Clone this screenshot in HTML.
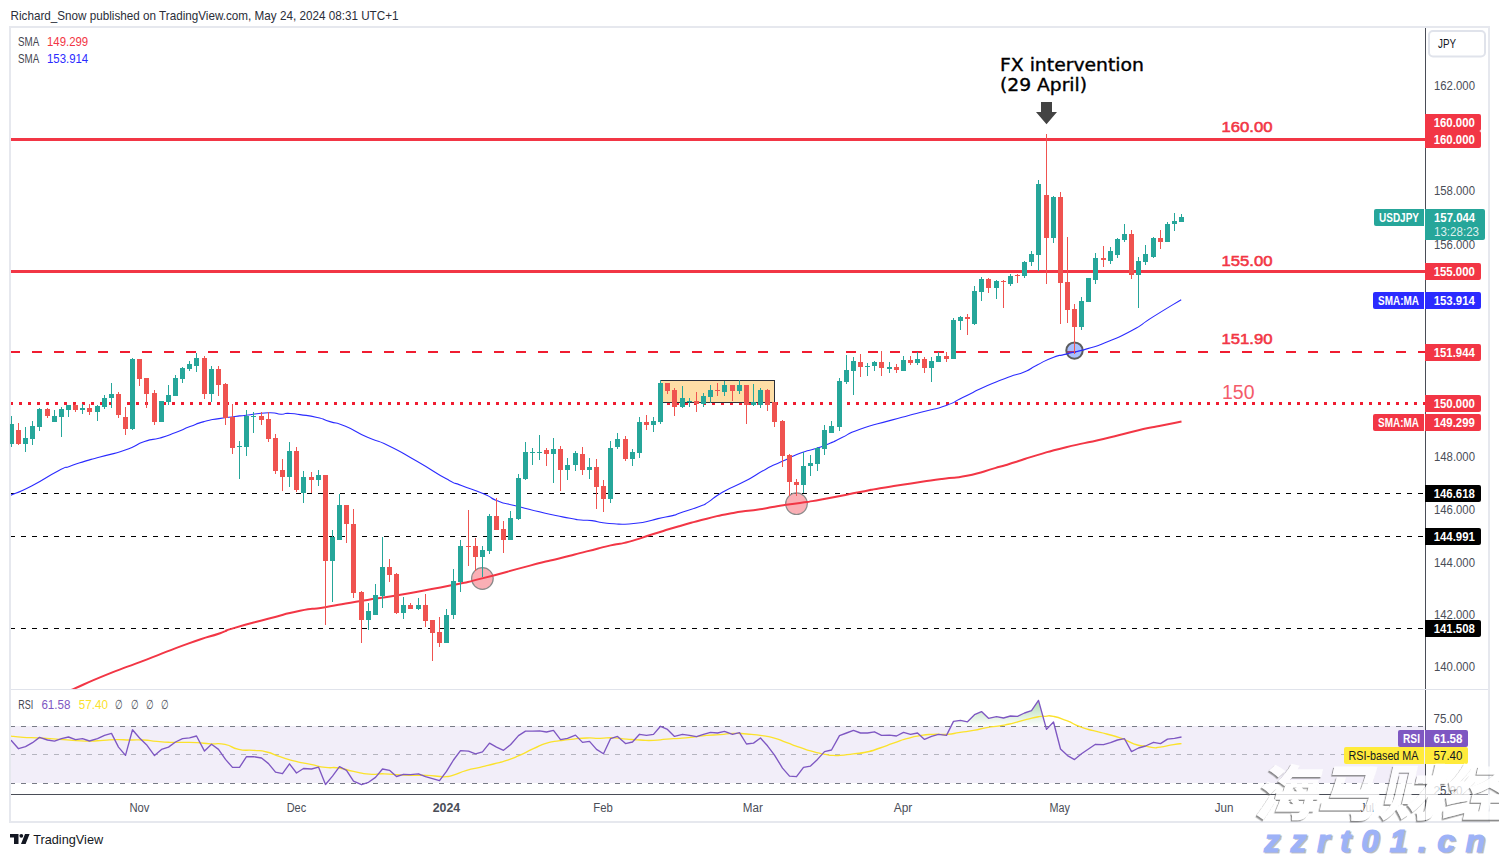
<!DOCTYPE html><html><head><meta charset="utf-8"><title>USDJPY chart</title><style>html,body{margin:0;padding:0;background:#fff;overflow:hidden}svg{display:block}</style></head><body><svg width="1499" height="857" viewBox="0 0 1499 857" font-family="'Liberation Sans', sans-serif" shape-rendering="crispEdges">
<defs>
<clipPath id="cMain"><rect x="11" y="28" width="1414" height="661"/></clipPath>
<clipPath id="cCand"><rect x="10" y="28" width="1415" height="661"/></clipPath>
<clipPath id="cRsi"><rect x="11" y="690" width="1414" height="104"/></clipPath>
<linearGradient id="gOB" x1="0" y1="0" x2="0" y2="1"><stop offset="0" stop-color="#4caf50" stop-opacity="0.45"/><stop offset="1" stop-color="#4caf50" stop-opacity="0"/></linearGradient>
</defs>
<rect width="1499" height="857" fill="#ffffff"/>
<text x="10.5" y="19.5" font-size="12.6" fill="#2a2e39" font-weight="400" text-anchor="start" textLength="388" lengthAdjust="spacingAndGlyphs" shape-rendering="auto">Richard_Snow published on TradingView.com, May 24, 2024 08:31 UTC+1</text>
<rect x="10" y="27" width="1479" height="795" fill="none" stroke="#e6e8ee" stroke-width="2"/>
<g clip-path="url(#cMain)">
<rect x="11" y="138" width="1414" height="3" fill="#f23645"/>
<rect x="11" y="270" width="1414" height="3" fill="#f23645"/>
<line x1="10" y1="352" x2="1425" y2="352" stroke="#f01c30" stroke-width="2" stroke-dasharray="10 12"/>
<line x1="10" y1="403.5" x2="1425" y2="403.5" stroke="#f01c30" stroke-width="3" stroke-dasharray="3 6"/>
<line x1="10" y1="493.5" x2="1425" y2="493.5" stroke="#000" stroke-width="1" stroke-dasharray="5 6"/>
<line x1="10" y1="536.5" x2="1425" y2="536.5" stroke="#000" stroke-width="1" stroke-dasharray="5 6"/>
<line x1="10" y1="628.5" x2="1425" y2="628.5" stroke="#000" stroke-width="1" stroke-dasharray="5 6"/>
<circle cx="482.4" cy="578.5" r="10.8" fill="#f23645" fill-opacity="0.4" stroke="#8a8a8a" stroke-width="1.2" shape-rendering="auto"/>
<circle cx="796.5" cy="503.7" r="10.8" fill="#f23645" fill-opacity="0.4" stroke="#8a8a8a" stroke-width="1.2" shape-rendering="auto"/>
<circle cx="1074.5" cy="350.6" r="8.2" fill="#2962ff" fill-opacity="0.4" stroke="#5d5d5d" stroke-width="2" shape-rendering="auto"/>
<rect x="660.5" y="380.5" width="114" height="22" fill="#fedea6"/>
<rect x="660.5" y="380.5" width="114" height="22" fill="none" stroke="#2a2e39" stroke-width="1"/>
<path d="M68.00,691.20 C69.60,690.57 59.47,695.00 72.80,689.30 C86.13,683.60 83.43,684.00 108.00,674.10 C132.57,664.20 119.80,669.77 146.50,659.60 C173.20,649.43 163.57,652.40 188.10,643.60 C212.63,634.80 205.17,638.27 220.10,633.20 C235.03,628.13 216.90,633.20 232.90,628.40 C248.90,623.60 245.73,624.67 268.10,618.80 C290.47,612.93 280.97,614.67 300.00,610.80 C319.03,606.93 304.53,610.53 325.20,607.20 C345.87,603.87 336.40,605.07 362.00,600.80 C387.60,596.53 372.63,599.47 402.00,594.40 C431.37,589.33 423.40,590.93 450.10,585.60 C476.80,580.27 455.47,585.07 482.10,578.40 C508.73,571.73 504.03,572.30 530.00,565.60 C555.97,558.90 541.10,563.03 560.00,558.30 C578.90,553.57 569.80,555.70 586.70,551.40 C603.60,547.10 596.47,548.67 610.70,545.40 C624.93,542.13 615.17,545.40 629.40,541.60 C643.63,537.80 636.50,539.20 653.40,534.00 C670.30,528.80 662.30,531.10 680.10,526.00 C697.90,520.90 689.03,523.07 706.80,518.70 C724.57,514.33 715.67,516.03 733.40,512.90 C751.13,509.77 744.47,511.70 760.00,509.30 C775.53,506.90 766.67,507.80 780.00,505.70 C793.33,503.60 786.63,505.00 800.00,503.00 C813.37,501.00 800.07,503.33 820.10,499.70 C840.13,496.07 840.13,495.93 860.10,492.10 C880.07,488.27 863.03,491.10 880.00,488.20 C896.97,485.30 890.33,486.50 911.00,483.40 C931.67,480.30 923.37,481.43 942.00,478.90 C960.63,476.37 948.97,479.47 966.90,475.80 C984.83,472.13 979.27,472.60 995.80,467.90 C1012.33,463.20 1002.70,465.97 1016.50,461.70 C1030.30,457.43 1020.67,459.93 1037.20,455.10 C1053.73,450.27 1044.03,452.57 1066.10,447.20 C1088.17,441.83 1079.27,444.63 1103.40,439.00 C1127.53,433.37 1119.90,434.60 1138.50,430.30 C1157.10,426.00 1144.87,429.00 1159.20,426.10 C1173.53,423.20 1174.07,423.10 1181.50,421.60" fill="none" stroke="#f23645" stroke-width="2" shape-rendering="auto" stroke-linejoin="round"/>
<path d="M8.00,496.50 C8.67,496.20 2.13,499.10 10.00,495.60 C17.87,492.10 15.60,494.20 31.60,486.00 C47.60,477.80 45.20,477.60 58.00,471.00 C70.80,464.40 61.20,469.40 70.00,466.20 C78.80,463.00 74.40,464.47 84.40,461.40 C94.40,458.33 86.40,460.80 100.00,457.00 C113.60,453.20 110.37,455.13 125.20,450.00 C140.03,444.87 132.90,445.60 144.50,441.60 C156.10,437.60 149.60,441.00 160.00,438.00 C170.40,435.00 165.70,436.40 175.70,432.60 C185.70,428.80 180.57,430.27 190.00,426.60 C199.43,422.93 194.33,424.27 204.00,421.60 C213.67,418.93 208.67,420.30 219.00,418.60 C229.33,416.90 226.00,417.63 235.00,416.50 C244.00,415.37 234.93,416.43 246.00,415.20 C257.07,413.97 256.53,413.13 268.20,412.80 C279.87,412.47 274.40,414.00 281.00,414.20 C287.60,414.40 281.67,413.27 288.00,413.40 C294.33,413.53 290.27,413.23 300.00,414.60 C309.73,415.97 307.20,415.17 317.20,417.50 C327.20,419.83 320.57,418.67 330.00,421.60 C339.43,424.53 333.00,421.07 345.50,426.30 C358.00,431.53 353.30,430.93 367.50,437.30 C381.70,443.67 371.47,437.33 388.10,445.40 C404.73,453.47 397.83,450.27 417.40,461.50 C436.97,472.73 432.13,471.13 446.80,479.10 C461.47,487.07 449.17,480.50 461.40,485.40 C473.63,490.30 471.27,488.57 483.50,493.80 C495.73,499.03 487.83,497.20 498.10,501.10 C508.37,505.00 498.60,501.47 514.30,505.50 C530.00,509.53 526.63,508.97 545.20,513.20 C563.77,517.43 558.07,515.93 570.00,518.20 C581.93,520.47 573.67,519.20 581.00,520.00 C588.33,520.80 584.67,519.67 592.00,520.60 C599.33,521.53 595.67,521.77 603.00,522.80 C610.33,523.83 606.67,523.23 614.00,523.70 C621.33,524.17 617.67,524.37 625.00,524.20 C632.33,524.03 628.67,524.10 636.00,523.20 C643.33,522.30 639.67,523.03 647.00,521.50 C654.33,519.97 649.43,520.57 658.00,518.60 C666.57,516.63 665.37,517.43 672.70,515.60 C680.03,513.77 670.90,516.23 680.00,513.10 C689.10,509.97 690.60,509.87 700.00,506.20 C709.40,502.53 700.57,506.87 708.20,502.10 C715.83,497.33 710.37,499.00 722.90,491.90 C735.43,484.80 731.63,488.30 745.80,480.80 C759.97,473.30 753.43,475.80 765.40,469.40 C777.37,463.00 770.17,466.97 781.70,461.60 C793.23,456.23 788.67,457.63 800.00,453.30 C811.33,448.97 805.70,451.93 815.70,448.60 C825.70,445.27 821.23,446.97 830.00,443.30 C838.77,439.63 832.00,442.30 842.00,437.60 C852.00,432.90 843.20,435.10 860.00,429.20 C876.80,423.30 872.40,425.47 892.40,419.90 C912.40,414.33 902.07,417.33 920.00,412.50 C937.93,407.67 931.97,410.40 946.20,405.40 C960.43,400.40 948.93,404.10 962.70,397.50 C976.47,390.90 972.33,392.33 987.50,385.60 C1002.67,378.87 995.77,381.93 1008.20,377.30 C1020.63,372.67 1015.13,375.83 1024.80,371.70 C1034.47,367.57 1027.57,369.73 1037.20,364.90 C1046.83,360.07 1044.07,360.80 1053.70,357.20 C1063.33,353.60 1055.07,356.87 1066.10,354.10 C1077.13,351.33 1073.00,353.03 1086.80,348.90 C1100.60,344.77 1092.33,347.90 1107.50,341.70 C1122.67,335.50 1117.13,338.57 1132.30,330.30 C1147.47,322.03 1136.70,327.10 1153.00,316.90 C1169.30,306.70 1171.80,305.43 1181.20,299.70" fill="none" stroke="#2b2bff" stroke-width="1.1" shape-rendering="auto" stroke-linejoin="round"/>
</g><g clip-path="url(#cCand)">
<rect x="11" y="416" width="1" height="31" fill="#26a69a"/>
<rect x="9" y="424" width="5" height="20" fill="#26a69a"/>
<rect x="18" y="423" width="1" height="22" fill="#ef5350"/>
<rect x="16" y="430" width="5" height="14" fill="#ef5350"/>
<rect x="25" y="427" width="1" height="25" fill="#26a69a"/>
<rect x="23" y="438" width="5" height="6" fill="#26a69a"/>
<rect x="32" y="421" width="1" height="24" fill="#26a69a"/>
<rect x="30" y="426" width="5" height="13" fill="#26a69a"/>
<rect x="39" y="408" width="1" height="23" fill="#26a69a"/>
<rect x="37" y="409" width="5" height="18" fill="#26a69a"/>
<rect x="47" y="408" width="1" height="10" fill="#ef5350"/>
<rect x="45" y="409" width="5" height="7" fill="#ef5350"/>
<rect x="54" y="410" width="1" height="12" fill="#26a69a"/>
<rect x="52" y="416" width="5" height="6" fill="#26a69a"/>
<rect x="61" y="407" width="1" height="30" fill="#26a69a"/>
<rect x="59" y="409" width="5" height="8" fill="#26a69a"/>
<rect x="68" y="405" width="1" height="12" fill="#26a69a"/>
<rect x="66" y="405" width="5" height="5" fill="#26a69a"/>
<rect x="75" y="404" width="1" height="8" fill="#ef5350"/>
<rect x="73" y="405" width="5" height="5" fill="#ef5350"/>
<rect x="82" y="404" width="1" height="10" fill="#26a69a"/>
<rect x="80" y="408" width="5" height="2" fill="#26a69a"/>
<rect x="89" y="404" width="1" height="11" fill="#ef5350"/>
<rect x="87" y="408" width="5" height="4" fill="#ef5350"/>
<rect x="97" y="405" width="1" height="16" fill="#26a69a"/>
<rect x="95" y="406" width="5" height="6" fill="#26a69a"/>
<rect x="104" y="395" width="1" height="14" fill="#26a69a"/>
<rect x="102" y="398" width="5" height="9" fill="#26a69a"/>
<rect x="111" y="383" width="1" height="25" fill="#26a69a"/>
<rect x="109" y="394" width="5" height="4" fill="#26a69a"/>
<rect x="118" y="392" width="1" height="26" fill="#ef5350"/>
<rect x="116" y="394" width="5" height="21" fill="#ef5350"/>
<rect x="125" y="407" width="1" height="28" fill="#ef5350"/>
<rect x="123" y="417" width="5" height="12" fill="#ef5350"/>
<rect x="132" y="358" width="1" height="72" fill="#26a69a"/>
<rect x="130" y="359" width="5" height="70" fill="#26a69a"/>
<rect x="139" y="359" width="1" height="27" fill="#ef5350"/>
<rect x="137" y="359" width="5" height="20" fill="#ef5350"/>
<rect x="146" y="378" width="1" height="30" fill="#ef5350"/>
<rect x="144" y="378" width="5" height="16" fill="#ef5350"/>
<rect x="154" y="390" width="1" height="35" fill="#ef5350"/>
<rect x="152" y="393" width="5" height="29" fill="#ef5350"/>
<rect x="161" y="401" width="1" height="21" fill="#26a69a"/>
<rect x="159" y="401" width="5" height="21" fill="#26a69a"/>
<rect x="168" y="385" width="1" height="20" fill="#26a69a"/>
<rect x="166" y="395" width="5" height="7" fill="#26a69a"/>
<rect x="175" y="375" width="1" height="21" fill="#26a69a"/>
<rect x="173" y="378" width="5" height="18" fill="#26a69a"/>
<rect x="182" y="367" width="1" height="16" fill="#26a69a"/>
<rect x="180" y="368" width="5" height="11" fill="#26a69a"/>
<rect x="189" y="361" width="1" height="10" fill="#26a69a"/>
<rect x="187" y="364" width="5" height="5" fill="#26a69a"/>
<rect x="196" y="353" width="1" height="19" fill="#26a69a"/>
<rect x="194" y="358" width="5" height="8" fill="#26a69a"/>
<rect x="204" y="356" width="1" height="43" fill="#ef5350"/>
<rect x="202" y="358" width="5" height="36" fill="#ef5350"/>
<rect x="211" y="366" width="1" height="36" fill="#26a69a"/>
<rect x="209" y="369" width="5" height="25" fill="#26a69a"/>
<rect x="218" y="366" width="1" height="30" fill="#ef5350"/>
<rect x="216" y="369" width="5" height="16" fill="#ef5350"/>
<rect x="225" y="383" width="1" height="42" fill="#ef5350"/>
<rect x="223" y="384" width="5" height="34" fill="#ef5350"/>
<rect x="232" y="404" width="1" height="50" fill="#ef5350"/>
<rect x="230" y="417" width="5" height="31" fill="#ef5350"/>
<rect x="239" y="441" width="1" height="38" fill="#26a69a"/>
<rect x="237" y="446" width="5" height="1" fill="#26a69a"/>
<rect x="246" y="410" width="1" height="46" fill="#26a69a"/>
<rect x="244" y="416" width="5" height="31" fill="#26a69a"/>
<rect x="253" y="412" width="1" height="21" fill="#26a69a"/>
<rect x="251" y="416" width="5" height="1" fill="#26a69a"/>
<rect x="261" y="412" width="1" height="13" fill="#ef5350"/>
<rect x="259" y="416" width="5" height="4" fill="#ef5350"/>
<rect x="268" y="412" width="1" height="30" fill="#ef5350"/>
<rect x="266" y="419" width="5" height="20" fill="#ef5350"/>
<rect x="275" y="434" width="1" height="40" fill="#ef5350"/>
<rect x="273" y="438" width="5" height="33" fill="#ef5350"/>
<rect x="282" y="459" width="1" height="32" fill="#ef5350"/>
<rect x="280" y="470" width="5" height="7" fill="#ef5350"/>
<rect x="289" y="442" width="1" height="45" fill="#26a69a"/>
<rect x="287" y="451" width="5" height="26" fill="#26a69a"/>
<rect x="296" y="447" width="1" height="45" fill="#ef5350"/>
<rect x="294" y="451" width="5" height="39" fill="#ef5350"/>
<rect x="303" y="471" width="1" height="32" fill="#26a69a"/>
<rect x="301" y="477" width="5" height="16" fill="#26a69a"/>
<rect x="311" y="472" width="1" height="21" fill="#ef5350"/>
<rect x="309" y="477" width="5" height="3" fill="#ef5350"/>
<rect x="318" y="470" width="1" height="16" fill="#26a69a"/>
<rect x="316" y="475" width="5" height="5" fill="#26a69a"/>
<rect x="325" y="475" width="1" height="150" fill="#ef5350"/>
<rect x="323" y="475" width="5" height="86" fill="#ef5350"/>
<rect x="332" y="530" width="1" height="72" fill="#26a69a"/>
<rect x="330" y="537" width="5" height="24" fill="#26a69a"/>
<rect x="339" y="494" width="1" height="46" fill="#26a69a"/>
<rect x="337" y="505" width="5" height="35" fill="#26a69a"/>
<rect x="346" y="505" width="1" height="38" fill="#ef5350"/>
<rect x="344" y="505" width="5" height="19" fill="#ef5350"/>
<rect x="353" y="509" width="1" height="89" fill="#ef5350"/>
<rect x="351" y="524" width="5" height="69" fill="#ef5350"/>
<rect x="361" y="591" width="1" height="52" fill="#ef5350"/>
<rect x="359" y="592" width="5" height="28" fill="#ef5350"/>
<rect x="368" y="603" width="1" height="27" fill="#26a69a"/>
<rect x="366" y="611" width="5" height="9" fill="#26a69a"/>
<rect x="375" y="584" width="1" height="31" fill="#26a69a"/>
<rect x="373" y="595" width="5" height="20" fill="#26a69a"/>
<rect x="382" y="537" width="1" height="71" fill="#26a69a"/>
<rect x="380" y="567" width="5" height="29" fill="#26a69a"/>
<rect x="389" y="559" width="1" height="23" fill="#ef5350"/>
<rect x="387" y="567" width="5" height="8" fill="#ef5350"/>
<rect x="396" y="573" width="1" height="41" fill="#ef5350"/>
<rect x="394" y="574" width="5" height="39" fill="#ef5350"/>
<rect x="403" y="597" width="1" height="22" fill="#26a69a"/>
<rect x="401" y="605" width="5" height="8" fill="#26a69a"/>
<rect x="410" y="603" width="1" height="6" fill="#ef5350"/>
<rect x="408" y="605" width="5" height="4" fill="#ef5350"/>
<rect x="418" y="598" width="1" height="12" fill="#26a69a"/>
<rect x="416" y="605" width="5" height="4" fill="#26a69a"/>
<rect x="425" y="594" width="1" height="33" fill="#ef5350"/>
<rect x="423" y="605" width="5" height="16" fill="#ef5350"/>
<rect x="432" y="620" width="1" height="41" fill="#ef5350"/>
<rect x="430" y="620" width="5" height="13" fill="#ef5350"/>
<rect x="439" y="617" width="1" height="30" fill="#ef5350"/>
<rect x="437" y="632" width="5" height="11" fill="#ef5350"/>
<rect x="446" y="609" width="1" height="34" fill="#26a69a"/>
<rect x="444" y="615" width="5" height="28" fill="#26a69a"/>
<rect x="453" y="569" width="1" height="50" fill="#26a69a"/>
<rect x="451" y="581" width="5" height="34" fill="#26a69a"/>
<rect x="460" y="540" width="1" height="52" fill="#26a69a"/>
<rect x="458" y="546" width="5" height="36" fill="#26a69a"/>
<rect x="468" y="510" width="1" height="56" fill="#ef5350"/>
<rect x="466" y="546" width="5" height="1" fill="#ef5350"/>
<rect x="475" y="538" width="1" height="33" fill="#ef5350"/>
<rect x="473" y="546" width="5" height="11" fill="#ef5350"/>
<rect x="482" y="546" width="1" height="31" fill="#26a69a"/>
<rect x="480" y="550" width="5" height="7" fill="#26a69a"/>
<rect x="489" y="514" width="1" height="40" fill="#26a69a"/>
<rect x="487" y="516" width="5" height="35" fill="#26a69a"/>
<rect x="496" y="498" width="1" height="32" fill="#ef5350"/>
<rect x="494" y="516" width="5" height="14" fill="#ef5350"/>
<rect x="503" y="521" width="1" height="32" fill="#ef5350"/>
<rect x="501" y="529" width="5" height="11" fill="#ef5350"/>
<rect x="510" y="511" width="1" height="29" fill="#26a69a"/>
<rect x="508" y="518" width="5" height="22" fill="#26a69a"/>
<rect x="518" y="474" width="1" height="46" fill="#26a69a"/>
<rect x="516" y="478" width="5" height="41" fill="#26a69a"/>
<rect x="525" y="442" width="1" height="38" fill="#26a69a"/>
<rect x="523" y="452" width="5" height="27" fill="#26a69a"/>
<rect x="532" y="448" width="1" height="17" fill="#26a69a"/>
<rect x="530" y="452" width="5" height="1" fill="#26a69a"/>
<rect x="539" y="435" width="1" height="25" fill="#26a69a"/>
<rect x="537" y="452" width="5" height="1" fill="#26a69a"/>
<rect x="546" y="448" width="1" height="18" fill="#ef5350"/>
<rect x="544" y="450" width="5" height="4" fill="#ef5350"/>
<rect x="553" y="438" width="1" height="45" fill="#26a69a"/>
<rect x="551" y="449" width="5" height="5" fill="#26a69a"/>
<rect x="560" y="446" width="1" height="45" fill="#ef5350"/>
<rect x="558" y="449" width="5" height="21" fill="#ef5350"/>
<rect x="567" y="458" width="1" height="22" fill="#26a69a"/>
<rect x="565" y="465" width="5" height="5" fill="#26a69a"/>
<rect x="575" y="451" width="1" height="20" fill="#26a69a"/>
<rect x="573" y="453" width="5" height="12" fill="#26a69a"/>
<rect x="582" y="447" width="1" height="28" fill="#ef5350"/>
<rect x="580" y="454" width="5" height="16" fill="#ef5350"/>
<rect x="589" y="458" width="1" height="21" fill="#26a69a"/>
<rect x="587" y="467" width="5" height="3" fill="#26a69a"/>
<rect x="596" y="459" width="1" height="50" fill="#ef5350"/>
<rect x="594" y="467" width="5" height="20" fill="#ef5350"/>
<rect x="603" y="480" width="1" height="32" fill="#ef5350"/>
<rect x="601" y="486" width="5" height="13" fill="#ef5350"/>
<rect x="610" y="441" width="1" height="62" fill="#26a69a"/>
<rect x="608" y="448" width="5" height="51" fill="#26a69a"/>
<rect x="617" y="433" width="1" height="16" fill="#26a69a"/>
<rect x="615" y="439" width="5" height="8" fill="#26a69a"/>
<rect x="625" y="436" width="1" height="25" fill="#ef5350"/>
<rect x="623" y="439" width="5" height="20" fill="#ef5350"/>
<rect x="632" y="449" width="1" height="17" fill="#26a69a"/>
<rect x="630" y="452" width="5" height="7" fill="#26a69a"/>
<rect x="639" y="417" width="1" height="41" fill="#26a69a"/>
<rect x="637" y="422" width="5" height="31" fill="#26a69a"/>
<rect x="646" y="415" width="1" height="15" fill="#ef5350"/>
<rect x="644" y="422" width="5" height="3" fill="#ef5350"/>
<rect x="653" y="417" width="1" height="15" fill="#26a69a"/>
<rect x="651" y="421" width="5" height="4" fill="#26a69a"/>
<rect x="660" y="380" width="1" height="44" fill="#26a69a"/>
<rect x="658" y="383" width="5" height="39" fill="#26a69a"/>
<rect x="667" y="383" width="1" height="11" fill="#ef5350"/>
<rect x="665" y="383" width="5" height="8" fill="#ef5350"/>
<rect x="674" y="388" width="1" height="28" fill="#ef5350"/>
<rect x="672" y="390" width="5" height="17" fill="#ef5350"/>
<rect x="682" y="386" width="1" height="22" fill="#26a69a"/>
<rect x="680" y="398" width="5" height="9" fill="#26a69a"/>
<rect x="689" y="398" width="1" height="9" fill="#26a69a"/>
<rect x="687" y="401" width="5" height="1" fill="#26a69a"/>
<rect x="696" y="392" width="1" height="20" fill="#ef5350"/>
<rect x="694" y="401" width="5" height="3" fill="#ef5350"/>
<rect x="703" y="393" width="1" height="14" fill="#26a69a"/>
<rect x="701" y="396" width="5" height="8" fill="#26a69a"/>
<rect x="710" y="385" width="1" height="18" fill="#26a69a"/>
<rect x="708" y="390" width="5" height="7" fill="#26a69a"/>
<rect x="717" y="383" width="1" height="13" fill="#ef5350"/>
<rect x="715" y="390" width="5" height="1" fill="#ef5350"/>
<rect x="724" y="381" width="1" height="15" fill="#26a69a"/>
<rect x="722" y="385" width="5" height="7" fill="#26a69a"/>
<rect x="732" y="385" width="1" height="16" fill="#ef5350"/>
<rect x="730" y="385" width="5" height="6" fill="#ef5350"/>
<rect x="739" y="380" width="1" height="14" fill="#26a69a"/>
<rect x="737" y="385" width="5" height="6" fill="#26a69a"/>
<rect x="746" y="385" width="1" height="39" fill="#ef5350"/>
<rect x="744" y="385" width="5" height="20" fill="#ef5350"/>
<rect x="753" y="384" width="1" height="22" fill="#26a69a"/>
<rect x="751" y="402" width="5" height="3" fill="#26a69a"/>
<rect x="760" y="388" width="1" height="20" fill="#26a69a"/>
<rect x="758" y="390" width="5" height="15" fill="#26a69a"/>
<rect x="767" y="389" width="1" height="22" fill="#ef5350"/>
<rect x="765" y="390" width="5" height="15" fill="#ef5350"/>
<rect x="774" y="402" width="1" height="25" fill="#ef5350"/>
<rect x="772" y="402" width="5" height="20" fill="#ef5350"/>
<rect x="782" y="420" width="1" height="47" fill="#ef5350"/>
<rect x="780" y="421" width="5" height="35" fill="#ef5350"/>
<rect x="789" y="454" width="1" height="42" fill="#ef5350"/>
<rect x="787" y="455" width="5" height="27" fill="#ef5350"/>
<rect x="796" y="479" width="1" height="17" fill="#ef5350"/>
<rect x="794" y="482" width="5" height="3" fill="#ef5350"/>
<rect x="803" y="452" width="1" height="41" fill="#26a69a"/>
<rect x="801" y="466" width="5" height="19" fill="#26a69a"/>
<rect x="810" y="455" width="1" height="21" fill="#26a69a"/>
<rect x="808" y="463" width="5" height="3" fill="#26a69a"/>
<rect x="817" y="447" width="1" height="24" fill="#26a69a"/>
<rect x="815" y="448" width="5" height="16" fill="#26a69a"/>
<rect x="824" y="425" width="1" height="30" fill="#26a69a"/>
<rect x="822" y="430" width="5" height="19" fill="#26a69a"/>
<rect x="831" y="421" width="1" height="12" fill="#26a69a"/>
<rect x="829" y="426" width="5" height="7" fill="#26a69a"/>
<rect x="839" y="378" width="1" height="53" fill="#26a69a"/>
<rect x="837" y="381" width="5" height="46" fill="#26a69a"/>
<rect x="846" y="355" width="1" height="29" fill="#26a69a"/>
<rect x="844" y="370" width="5" height="12" fill="#26a69a"/>
<rect x="853" y="357" width="1" height="38" fill="#26a69a"/>
<rect x="851" y="361" width="5" height="10" fill="#26a69a"/>
<rect x="860" y="354" width="1" height="23" fill="#ef5350"/>
<rect x="858" y="362" width="5" height="5" fill="#ef5350"/>
<rect x="867" y="363" width="1" height="13" fill="#26a69a"/>
<rect x="865" y="366" width="5" height="1" fill="#26a69a"/>
<rect x="874" y="361" width="1" height="10" fill="#26a69a"/>
<rect x="872" y="362" width="5" height="4" fill="#26a69a"/>
<rect x="881" y="351" width="1" height="25" fill="#ef5350"/>
<rect x="879" y="362" width="5" height="6" fill="#ef5350"/>
<rect x="889" y="362" width="1" height="11" fill="#26a69a"/>
<rect x="887" y="367" width="5" height="2" fill="#26a69a"/>
<rect x="896" y="364" width="1" height="9" fill="#ef5350"/>
<rect x="894" y="367" width="5" height="3" fill="#ef5350"/>
<rect x="903" y="356" width="1" height="15" fill="#26a69a"/>
<rect x="901" y="360" width="5" height="11" fill="#26a69a"/>
<rect x="910" y="356" width="1" height="9" fill="#ef5350"/>
<rect x="908" y="360" width="5" height="3" fill="#ef5350"/>
<rect x="917" y="352" width="1" height="13" fill="#26a69a"/>
<rect x="915" y="359" width="5" height="4" fill="#26a69a"/>
<rect x="924" y="357" width="1" height="16" fill="#ef5350"/>
<rect x="922" y="359" width="5" height="9" fill="#ef5350"/>
<rect x="931" y="357" width="1" height="25" fill="#26a69a"/>
<rect x="929" y="361" width="5" height="7" fill="#26a69a"/>
<rect x="938" y="352" width="1" height="10" fill="#26a69a"/>
<rect x="936" y="356" width="5" height="6" fill="#26a69a"/>
<rect x="946" y="352" width="1" height="10" fill="#ef5350"/>
<rect x="944" y="356" width="5" height="3" fill="#ef5350"/>
<rect x="953" y="318" width="1" height="41" fill="#26a69a"/>
<rect x="951" y="320" width="5" height="39" fill="#26a69a"/>
<rect x="960" y="316" width="1" height="14" fill="#26a69a"/>
<rect x="958" y="317" width="5" height="4" fill="#26a69a"/>
<rect x="967" y="314" width="1" height="21" fill="#ef5350"/>
<rect x="965" y="317" width="5" height="2" fill="#ef5350"/>
<rect x="974" y="286" width="1" height="39" fill="#26a69a"/>
<rect x="972" y="291" width="5" height="33" fill="#26a69a"/>
<rect x="981" y="277" width="1" height="24" fill="#26a69a"/>
<rect x="979" y="279" width="5" height="13" fill="#26a69a"/>
<rect x="988" y="278" width="1" height="15" fill="#ef5350"/>
<rect x="986" y="279" width="5" height="9" fill="#ef5350"/>
<rect x="996" y="280" width="1" height="19" fill="#26a69a"/>
<rect x="994" y="281" width="5" height="7" fill="#26a69a"/>
<rect x="1003" y="280" width="1" height="28" fill="#ef5350"/>
<rect x="1001" y="281" width="5" height="1" fill="#ef5350"/>
<rect x="1010" y="274" width="1" height="12" fill="#26a69a"/>
<rect x="1008" y="276" width="5" height="8" fill="#26a69a"/>
<rect x="1017" y="274" width="1" height="9" fill="#ef5350"/>
<rect x="1015" y="275" width="5" height="1" fill="#ef5350"/>
<rect x="1024" y="261" width="1" height="17" fill="#26a69a"/>
<rect x="1022" y="262" width="5" height="14" fill="#26a69a"/>
<rect x="1031" y="251" width="1" height="15" fill="#26a69a"/>
<rect x="1029" y="254" width="5" height="8" fill="#26a69a"/>
<rect x="1038" y="180" width="1" height="91" fill="#26a69a"/>
<rect x="1036" y="184" width="5" height="71" fill="#26a69a"/>
<rect x="1046" y="134" width="1" height="150" fill="#ef5350"/>
<rect x="1044" y="195" width="5" height="43" fill="#ef5350"/>
<rect x="1053" y="196" width="1" height="47" fill="#26a69a"/>
<rect x="1051" y="197" width="5" height="41" fill="#26a69a"/>
<rect x="1060" y="192" width="1" height="132" fill="#ef5350"/>
<rect x="1058" y="197" width="5" height="86" fill="#ef5350"/>
<rect x="1067" y="237" width="1" height="86" fill="#ef5350"/>
<rect x="1065" y="282" width="5" height="28" fill="#ef5350"/>
<rect x="1074" y="304" width="1" height="50" fill="#ef5350"/>
<rect x="1072" y="309" width="5" height="18" fill="#ef5350"/>
<rect x="1081" y="297" width="1" height="33" fill="#26a69a"/>
<rect x="1079" y="301" width="5" height="26" fill="#26a69a"/>
<rect x="1088" y="278" width="1" height="24" fill="#26a69a"/>
<rect x="1086" y="278" width="5" height="24" fill="#26a69a"/>
<rect x="1095" y="253" width="1" height="31" fill="#26a69a"/>
<rect x="1093" y="258" width="5" height="22" fill="#26a69a"/>
<rect x="1103" y="246" width="1" height="21" fill="#ef5350"/>
<rect x="1101" y="258" width="5" height="2" fill="#ef5350"/>
<rect x="1110" y="247" width="1" height="17" fill="#26a69a"/>
<rect x="1108" y="251" width="5" height="10" fill="#26a69a"/>
<rect x="1117" y="238" width="1" height="20" fill="#26a69a"/>
<rect x="1115" y="239" width="5" height="16" fill="#26a69a"/>
<rect x="1124" y="224" width="1" height="18" fill="#26a69a"/>
<rect x="1122" y="234" width="5" height="6" fill="#26a69a"/>
<rect x="1131" y="230" width="1" height="49" fill="#ef5350"/>
<rect x="1129" y="234" width="5" height="41" fill="#ef5350"/>
<rect x="1138" y="257" width="1" height="51" fill="#26a69a"/>
<rect x="1136" y="261" width="5" height="14" fill="#26a69a"/>
<rect x="1145" y="245" width="1" height="20" fill="#26a69a"/>
<rect x="1143" y="254" width="5" height="8" fill="#26a69a"/>
<rect x="1153" y="237" width="1" height="21" fill="#26a69a"/>
<rect x="1151" y="238" width="5" height="19" fill="#26a69a"/>
<rect x="1160" y="230" width="1" height="19" fill="#ef5350"/>
<rect x="1158" y="238" width="5" height="4" fill="#ef5350"/>
<rect x="1167" y="222" width="1" height="20" fill="#26a69a"/>
<rect x="1165" y="224" width="5" height="18" fill="#26a69a"/>
<rect x="1174" y="213" width="1" height="18" fill="#26a69a"/>
<rect x="1172" y="221" width="5" height="3" fill="#26a69a"/>
<rect x="1181" y="214" width="1" height="8" fill="#26a69a"/>
<rect x="1179" y="217" width="5" height="5" fill="#26a69a"/>
<text x="1221.5" y="132" font-size="14.8" fill="#f23645" font-weight="400" text-anchor="start" textLength="51" lengthAdjust="spacingAndGlyphs" shape-rendering="auto" stroke="#f23645" stroke-width="0.55">160.00</text>
<text x="1221.5" y="265.6" font-size="14.8" fill="#f23645" font-weight="400" text-anchor="start" textLength="51" lengthAdjust="spacingAndGlyphs" shape-rendering="auto" stroke="#f23645" stroke-width="0.55">155.00</text>
<text x="1221.5" y="344" font-size="14.8" fill="#f23645" font-weight="400" text-anchor="start" textLength="51" lengthAdjust="spacingAndGlyphs" shape-rendering="auto" stroke="#f23645" stroke-width="0.55">151.90</text>
<text x="1222" y="398.7" font-size="19.3" fill="#f45b69" font-weight="400" text-anchor="start" textLength="32.5" lengthAdjust="spacingAndGlyphs" shape-rendering="auto">150</text>
<text x="1000" y="71" font-size="18.2" fill="#000" font-weight="400" text-anchor="start" textLength="144" lengthAdjust="spacingAndGlyphs" shape-rendering="auto" font-family="'DejaVu Sans Condensed', 'Liberation Sans', sans-serif" stroke="#000" stroke-width="0.35">FX intervention</text>
<text x="1000" y="90.8" font-size="18.2" fill="#000" font-weight="400" text-anchor="start" textLength="87" lengthAdjust="spacingAndGlyphs" shape-rendering="auto" font-family="'DejaVu Sans Condensed', 'Liberation Sans', sans-serif" stroke="#000" stroke-width="0.35">(29 April)</text>
<path d="M1041,102 h11 v10 h5 l-10.5,12.3 l-10.5,-12.3 h5 z" fill="#434343" shape-rendering="auto"/>
</g>
<text x="18" y="46.2" font-size="12.5" fill="#42454f" font-weight="400" text-anchor="start" textLength="21.2" lengthAdjust="spacingAndGlyphs" shape-rendering="auto">SMA</text>
<text x="47" y="46.2" font-size="12.5" fill="#f23645" font-weight="400" text-anchor="start" textLength="41.2" lengthAdjust="spacingAndGlyphs" shape-rendering="auto">149.299</text>
<text x="18" y="63.1" font-size="12.5" fill="#42454f" font-weight="400" text-anchor="start" textLength="21.2" lengthAdjust="spacingAndGlyphs" shape-rendering="auto">SMA</text>
<text x="47" y="63.1" font-size="12.5" fill="#2b2bff" font-weight="400" text-anchor="start" textLength="41.2" lengthAdjust="spacingAndGlyphs" shape-rendering="auto">153.914</text>
<g clip-path="url(#cRsi)">
<rect x="11" y="726" width="1414" height="57" fill="#7e57c2" fill-opacity="0.1"/>
<polygon points="4.5,726.5 4.5,726.5 11.5,726.5 18.5,726.5 25.5,726.5 32.5,726.5 39.5,726.5 47.5,726.5 54.5,726.5 61.5,726.5 68.5,726.5 75.5,726.5 82.5,726.5 89.5,726.5 97.5,726.5 104.5,726.5 111.5,726.5 118.5,726.5 125.5,726.5 132.5,726.5 139.5,726.5 146.5,726.5 154.5,726.5 161.5,726.5 168.5,726.5 175.5,726.5 182.5,726.5 189.5,726.5 196.5,726.5 204.5,726.5 211.5,726.5 218.5,726.5 225.5,726.5 232.5,726.5 239.5,726.5 246.5,726.5 253.5,726.5 261.5,726.5 268.5,726.5 275.5,726.5 282.5,726.5 289.5,726.5 296.5,726.5 303.5,726.5 311.5,726.5 318.5,726.5 325.5,726.5 332.5,726.5 339.5,726.5 346.5,726.5 353.5,726.5 361.5,726.5 368.5,726.5 375.5,726.5 382.5,726.5 389.5,726.5 396.5,726.5 403.5,726.5 410.5,726.5 418.5,726.5 425.5,726.5 432.5,726.5 439.5,726.5 446.5,726.5 453.5,726.5 460.5,726.5 468.5,726.5 475.5,726.5 482.5,726.5 489.5,726.5 496.5,726.5 503.5,726.5 510.5,726.5 518.5,726.5 525.5,726.5 532.5,726.5 539.5,726.5 546.5,726.5 553.5,726.5 560.5,726.5 567.5,726.5 575.5,726.5 582.5,726.5 589.5,726.5 596.5,726.5 603.5,726.5 610.5,726.5 617.5,726.5 625.5,726.5 632.5,726.5 639.5,726.5 646.5,726.5 653.5,726.5 660.3,726.5 660.5,726.3 661.0,726.5 667.5,726.5 674.5,726.5 682.5,726.5 689.5,726.5 696.5,726.5 703.5,726.5 710.5,726.5 717.5,726.5 724.5,726.5 732.5,726.5 739.5,726.5 746.5,726.5 753.5,726.5 760.5,726.5 767.5,726.5 774.5,726.5 782.5,726.5 789.5,726.5 796.5,726.5 803.5,726.5 810.5,726.5 817.5,726.5 824.5,726.5 831.5,726.5 839.5,726.5 846.5,726.5 853.5,726.5 860.5,726.5 867.5,726.5 874.5,726.5 881.5,726.5 889.5,726.5 896.5,726.5 903.5,726.5 910.5,726.5 917.5,726.5 924.5,726.5 931.5,726.5 938.5,726.5 946.5,726.5 951.0,726.5 953.5,721.4 960.5,720.4 967.5,721.8 974.5,714.7 981.5,711.6 988.5,718.3 996.5,716.7 1003.5,718.0 1010.5,716.0 1017.5,716.4 1024.5,713.0 1031.5,710.7 1038.5,700.4 1045.7,726.5 1046.5,726.5 1049.2,726.5 1053.5,722.0 1054.7,726.5 1060.5,726.5 1067.5,726.5 1074.5,726.5 1081.5,726.5 1088.5,726.5 1095.5,726.5 1103.5,726.5 1110.5,726.5 1117.5,726.5 1124.5,726.5 1131.5,726.5 1138.5,726.5 1145.5,726.5 1153.5,726.5 1160.5,726.5 1167.5,726.5 1174.5,726.5 1181.5,726.5 1181.5,726.5" fill="url(#gOB)" shape-rendering="auto"/>
<line x1="10" y1="726.5" x2="1425" y2="726.5" stroke="#787b86" stroke-width="1" stroke-dasharray="5 6"/>
<line x1="10" y1="754.5" x2="1425" y2="754.5" stroke="#787b86" stroke-opacity="0.5" stroke-width="1" stroke-dasharray="5 6"/>
<line x1="10" y1="783.5" x2="1425" y2="783.5" stroke="#787b86" stroke-width="1" stroke-dasharray="5 6"/>
<path d="M10.00,736.00 C14.43,736.47 14.40,736.80 23.30,737.40 C32.20,738.00 27.80,737.37 36.70,737.80 C45.60,738.23 41.10,738.10 50.00,738.70 C58.90,739.30 54.50,738.93 63.40,739.60 C72.30,740.27 67.83,740.23 76.70,740.70 C85.57,741.17 81.10,741.10 90.00,741.00 C98.90,740.90 94.50,740.87 103.40,740.40 C112.30,739.93 107.83,739.73 116.70,739.60 C125.57,739.47 121.10,739.87 130.00,740.00 C138.90,740.13 134.47,739.53 143.40,740.00 C152.33,740.47 147.90,740.63 156.80,741.40 C165.70,742.17 161.20,741.97 170.10,742.30 C179.00,742.63 174.60,742.27 183.50,742.40 C192.40,742.53 187.73,742.23 196.80,742.70 C205.87,743.17 201.30,743.23 210.70,743.80 C220.10,744.37 215.67,742.53 225.00,744.40 C234.33,746.27 229.23,747.43 238.70,749.40 C248.17,751.37 244.07,749.43 253.40,750.30 C262.73,751.17 257.83,749.87 266.70,752.00 C275.57,754.13 270.23,753.57 280.00,756.70 C289.77,759.83 285.77,758.83 296.00,761.40 C306.23,763.97 300.90,762.40 310.70,764.40 C320.50,766.40 316.03,766.20 325.40,767.40 C334.77,768.60 329.47,766.67 338.80,768.00 C348.13,769.33 343.20,769.37 353.40,771.40 C363.60,773.43 359.17,773.30 369.40,774.10 C379.63,774.90 373.90,773.53 384.10,773.80 C394.30,774.07 390.27,774.37 400.00,774.90 C409.73,775.43 404.40,775.23 413.30,775.40 C422.20,775.57 417.80,775.03 426.70,775.40 C435.60,775.77 433.57,776.07 440.00,776.50 C446.43,776.93 441.53,777.17 446.00,776.70 C450.47,776.23 446.50,777.23 453.40,775.10 C460.30,772.97 457.83,772.87 466.70,770.30 C475.57,767.73 471.10,769.50 480.00,767.40 C488.90,765.30 484.50,766.33 493.40,764.00 C502.30,761.67 497.80,763.37 506.70,760.40 C515.60,757.43 511.20,759.00 520.10,755.10 C529.00,751.20 524.50,752.70 533.40,748.70 C542.30,744.70 537.90,745.77 546.80,743.10 C555.70,740.43 551.20,742.03 560.10,740.70 C569.00,739.37 564.60,740.00 573.50,739.10 C582.40,738.20 577.97,738.27 586.80,738.00 C595.63,737.73 591.17,738.37 600.00,738.30 C608.83,738.23 604.40,737.53 613.30,737.80 C622.20,738.07 617.80,738.37 626.70,739.10 C635.60,739.83 631.10,739.57 640.00,740.00 C648.90,740.43 644.50,740.70 653.40,740.40 C662.30,740.10 657.83,739.80 666.70,739.10 C675.57,738.40 671.10,739.00 680.00,738.30 C688.90,737.60 684.50,737.97 693.40,737.00 C702.30,736.03 697.80,736.17 706.70,735.40 C715.60,734.63 711.20,735.37 720.10,734.70 C729.00,734.03 724.50,733.63 733.40,733.40 C742.30,733.17 737.90,733.33 746.80,734.00 C755.70,734.67 751.20,734.13 760.10,735.40 C769.00,736.67 764.60,735.37 773.50,737.80 C782.40,740.23 777.97,739.50 786.80,742.70 C795.63,745.90 791.17,744.43 800.00,747.40 C808.83,750.37 804.40,749.17 813.30,751.60 C822.20,754.03 820.00,753.43 826.70,754.70 C833.40,755.97 828.97,755.17 833.40,755.40 C837.83,755.63 833.33,755.93 840.00,755.40 C846.67,754.87 844.50,754.93 853.40,753.80 C862.30,752.67 857.83,753.93 866.70,752.00 C875.57,750.07 871.10,750.97 880.00,748.00 C888.90,745.03 884.50,746.20 893.40,743.10 C902.30,740.00 897.80,741.20 906.70,738.70 C915.60,736.20 911.20,737.07 920.10,735.60 C929.00,734.13 924.50,734.73 933.40,734.30 C942.30,733.87 937.90,734.93 946.80,734.30 C955.70,733.67 951.20,733.70 960.10,732.40 C969.00,731.10 964.60,732.00 973.50,730.40 C982.40,728.80 977.97,729.13 986.80,727.60 C995.63,726.07 991.17,727.30 1000.00,725.80 C1008.83,724.30 1004.40,725.23 1013.30,723.10 C1022.20,720.97 1018.23,721.53 1026.70,719.40 C1035.17,717.27 1032.47,717.73 1038.70,716.70 C1044.93,715.67 1040.50,716.40 1045.40,716.30 C1050.30,716.20 1046.30,714.93 1053.40,716.40 C1060.50,717.87 1057.83,717.27 1066.70,720.70 C1075.57,724.13 1071.10,723.37 1080.00,726.70 C1088.90,730.03 1084.50,728.27 1093.40,730.70 C1102.30,733.13 1097.80,731.63 1106.70,734.00 C1115.60,736.37 1113.40,735.57 1120.10,737.80 C1126.80,740.03 1121.03,738.30 1126.80,740.70 C1132.57,743.10 1130.73,743.13 1137.40,745.00 C1144.07,746.87 1141.43,745.43 1146.80,746.30 C1152.17,747.17 1149.07,747.33 1153.50,747.60 C1157.93,747.87 1153.43,748.07 1160.10,747.10 C1166.77,746.13 1166.37,745.87 1173.50,744.70 C1180.63,743.53 1178.83,743.97 1181.50,743.60" fill="none" stroke="#fbe22c" stroke-width="1.35" shape-rendering="auto" stroke-linejoin="round"/>
<polyline points="4.5,738.0 11.5,740.7 18.5,748.7 25.5,746.7 32.5,742.7 39.5,737.4 47.5,740.0 54.5,741.1 61.5,738.7 68.5,737.0 75.5,739.6 82.5,738.7 89.5,741.0 97.5,738.7 104.5,735.4 111.5,733.4 118.5,747.1 125.5,755.4 132.5,729.8 139.5,738.0 146.5,744.7 154.5,755.6 161.5,749.4 168.5,747.1 175.5,742.0 182.5,738.7 189.5,737.8 196.5,736.0 204.5,751.1 211.5,744.3 218.5,749.4 225.5,759.4 232.5,767.4 239.5,767.4 246.5,756.7 253.5,756.7 261.5,758.0 268.5,763.6 275.5,772.1 282.5,773.7 289.5,763.8 296.5,773.0 303.5,768.5 311.5,769.0 318.5,767.1 325.5,784.5 332.5,776.1 339.5,766.7 346.5,770.3 353.5,781.1 361.5,784.7 368.5,782.3 375.5,777.4 382.5,769.0 389.5,770.3 396.5,776.5 403.5,774.3 410.5,774.7 418.5,773.8 425.5,776.7 432.5,778.7 439.5,780.7 446.5,771.4 453.5,760.0 460.5,750.7 468.5,751.1 475.5,753.8 482.5,751.8 489.5,743.1 496.5,747.1 503.5,750.3 510.5,744.7 518.5,735.6 525.5,731.1 532.5,731.1 539.5,730.8 546.5,732.0 553.5,730.4 560.5,739.6 567.5,738.3 575.5,735.1 582.5,742.4 589.5,741.4 596.5,749.4 603.5,753.8 610.5,738.7 617.5,736.4 625.5,743.6 632.5,742.0 639.5,734.3 646.5,735.4 653.5,734.4 660.5,726.3 667.5,729.4 674.5,736.4 682.5,734.3 689.5,735.4 696.5,736.7 703.5,734.4 710.5,732.4 717.5,733.0 724.5,731.4 732.5,734.3 739.5,732.7 746.5,744.0 753.5,743.1 760.5,738.0 767.5,745.8 774.5,755.1 782.5,768.1 789.5,776.1 796.5,776.7 803.5,767.4 810.5,766.1 817.5,759.4 824.5,751.6 831.5,750.0 839.5,735.6 846.5,733.0 853.5,730.4 860.5,733.0 867.5,733.0 874.5,731.8 881.5,735.4 889.5,735.1 896.5,736.0 903.5,732.4 910.5,734.3 917.5,733.0 924.5,739.4 931.5,736.4 938.5,734.4 946.5,735.4 953.5,721.4 960.5,720.4 967.5,721.8 974.5,714.7 981.5,711.6 988.5,718.3 996.5,716.7 1003.5,718.0 1010.5,716.0 1017.5,716.4 1024.5,713.0 1031.5,710.7 1038.5,700.4 1046.5,729.4 1053.5,722.0 1060.5,749.0 1067.5,755.6 1074.5,759.6 1081.5,753.8 1088.5,749.0 1095.5,744.3 1103.5,744.7 1110.5,742.7 1117.5,740.0 1124.5,738.7 1131.5,751.6 1138.5,748.0 1145.5,746.0 1153.5,742.3 1160.5,743.6 1167.5,739.1 1174.5,738.3 1181.5,737.0" fill="none" stroke="#7e57c2" stroke-width="1.35" shape-rendering="auto" stroke-linejoin="round"/>
</g>
<text x="18.3" y="708.7" font-size="12.5" fill="#42454f" font-weight="400" text-anchor="start" textLength="15" lengthAdjust="spacingAndGlyphs" shape-rendering="auto">RSI</text>
<text x="41.4" y="708.7" font-size="12.5" fill="#7e57c2" font-weight="400" text-anchor="start" textLength="29" lengthAdjust="spacingAndGlyphs" shape-rendering="auto">61.58</text>
<text x="78.7" y="708.7" font-size="12.5" fill="#fbe22c" font-weight="400" text-anchor="start" textLength="29.3" lengthAdjust="spacingAndGlyphs" shape-rendering="auto">57.40</text>
<text x="115.4" y="708.7" font-size="12.5" fill="#42454f" font-weight="400" text-anchor="start" textLength="7.3" lengthAdjust="spacingAndGlyphs" shape-rendering="auto">∅</text>
<text x="130.7" y="708.7" font-size="12.5" fill="#42454f" font-weight="400" text-anchor="start" textLength="7.3" lengthAdjust="spacingAndGlyphs" shape-rendering="auto">∅</text>
<text x="146" y="708.7" font-size="12.5" fill="#42454f" font-weight="400" text-anchor="start" textLength="7.3" lengthAdjust="spacingAndGlyphs" shape-rendering="auto">∅</text>
<text x="161.4" y="708.7" font-size="12.5" fill="#42454f" font-weight="400" text-anchor="start" textLength="7.3" lengthAdjust="spacingAndGlyphs" shape-rendering="auto">∅</text>
<rect x="11" y="689" width="1477" height="1" fill="#e0e3eb"/>
<rect x="1425" y="28" width="1" height="661" fill="#4a4d57"/>
<rect x="1425" y="690" width="1" height="131" fill="#4a4d57"/>
<rect x="11" y="794" width="1477" height="1" fill="#4a4d57"/>
<text x="1434" y="90.0" font-size="12" fill="#4a4d57" font-weight="400" text-anchor="start" textLength="41" lengthAdjust="spacingAndGlyphs" shape-rendering="auto">162.000</text>
<text x="1434" y="195.4" font-size="12" fill="#4a4d57" font-weight="400" text-anchor="start" textLength="41" lengthAdjust="spacingAndGlyphs" shape-rendering="auto">158.000</text>
<text x="1434" y="249.0" font-size="12" fill="#4a4d57" font-weight="400" text-anchor="start" textLength="41" lengthAdjust="spacingAndGlyphs" shape-rendering="auto">156.000</text>
<text x="1434" y="460.59999999999997" font-size="12" fill="#4a4d57" font-weight="400" text-anchor="start" textLength="41" lengthAdjust="spacingAndGlyphs" shape-rendering="auto">148.000</text>
<text x="1434" y="514.2" font-size="12" fill="#4a4d57" font-weight="400" text-anchor="start" textLength="41" lengthAdjust="spacingAndGlyphs" shape-rendering="auto">146.000</text>
<text x="1434" y="566.6999999999999" font-size="12" fill="#4a4d57" font-weight="400" text-anchor="start" textLength="41" lengthAdjust="spacingAndGlyphs" shape-rendering="auto">144.000</text>
<text x="1434" y="618.9" font-size="12" fill="#4a4d57" font-weight="400" text-anchor="start" textLength="41" lengthAdjust="spacingAndGlyphs" shape-rendering="auto">142.000</text>
<text x="1434" y="671.4" font-size="12" fill="#4a4d57" font-weight="400" text-anchor="start" textLength="41" lengthAdjust="spacingAndGlyphs" shape-rendering="auto">140.000</text>
<text x="1433.5" y="723.0" font-size="12" fill="#4a4d57" font-weight="400" text-anchor="start" textLength="29" lengthAdjust="spacingAndGlyphs" shape-rendering="auto">75.00</text>
<text x="1433.5" y="794.6999999999999" font-size="12" fill="#4a4d57" font-weight="400" text-anchor="start" textLength="29" lengthAdjust="spacingAndGlyphs" shape-rendering="auto">25.00</text>
<path d="M1425,114 H1479 Q1481,114 1481,116 V129 Q1481,131 1479,131 H1425 Z" fill="#f23645" shape-rendering="auto"/>
<text x="1433.7" y="126.9" font-size="12" fill="#fff" font-weight="700" text-anchor="start" textLength="41.2" lengthAdjust="spacingAndGlyphs" shape-rendering="auto">160.000</text>
<path d="M1425,131 H1479 Q1481,131 1481,133 V146 Q1481,148 1479,148 H1425 Z" fill="#f23645" shape-rendering="auto"/>
<text x="1433.7" y="143.9" font-size="12" fill="#fff" font-weight="700" text-anchor="start" textLength="41.2" lengthAdjust="spacingAndGlyphs" shape-rendering="auto">160.000</text>
<path d="M1376,209 H1424 V226 H1376 Q1374,226 1374,224 V211 Q1374,209 1376,209 Z" fill="#26a69a" shape-rendering="auto"/>
<text x="1379" y="221.9" font-size="12" fill="#fff" font-weight="700" text-anchor="start" textLength="40" lengthAdjust="spacingAndGlyphs" shape-rendering="auto">USDJPY</text>
<path d="M1425,209 H1483 Q1485,209 1485,211 V238 Q1485,240 1483,240 H1425 Z" fill="#26a69a" shape-rendering="auto"/>
<text x="1434" y="222" font-size="12" fill="#fff" font-weight="700" text-anchor="start" textLength="41.2" lengthAdjust="spacingAndGlyphs" shape-rendering="auto">157.044</text>
<text x="1434" y="236" font-size="12" fill="#ffffff" font-weight="400" text-anchor="start" textLength="45" lengthAdjust="spacingAndGlyphs" shape-rendering="auto" fill-opacity="0.85">13:28:23</text>
<path d="M1425,263 H1479 Q1481,263 1481,265 V278 Q1481,280 1479,280 H1425 Z" fill="#f23645" shape-rendering="auto"/>
<text x="1433.7" y="275.9" font-size="12" fill="#fff" font-weight="700" text-anchor="start" textLength="41.2" lengthAdjust="spacingAndGlyphs" shape-rendering="auto">155.000</text>
<path d="M1375,292 H1424 V309 H1375 Q1373,309 1373,307 V294 Q1373,292 1375,292 Z" fill="#2b2bff" shape-rendering="auto"/>
<text x="1378" y="304.9" font-size="12" fill="#fff" font-weight="700" text-anchor="start" textLength="41" lengthAdjust="spacingAndGlyphs" shape-rendering="auto">SMA:MA</text>
<path d="M1425,292 H1479 Q1481,292 1481,294 V307 Q1481,309 1479,309 H1425 Z" fill="#2b2bff" shape-rendering="auto"/>
<text x="1433.7" y="304.9" font-size="12" fill="#fff" font-weight="700" text-anchor="start" textLength="41.2" lengthAdjust="spacingAndGlyphs" shape-rendering="auto">153.914</text>
<path d="M1425,344 H1479 Q1481,344 1481,346 V359 Q1481,361 1479,361 H1425 Z" fill="#f23645" shape-rendering="auto"/>
<text x="1433.7" y="356.9" font-size="12" fill="#fff" font-weight="700" text-anchor="start" textLength="41.2" lengthAdjust="spacingAndGlyphs" shape-rendering="auto">151.944</text>
<path d="M1425,395 H1479 Q1481,395 1481,397 V410 Q1481,412 1479,412 H1425 Z" fill="#f23645" shape-rendering="auto"/>
<text x="1433.7" y="407.9" font-size="12" fill="#fff" font-weight="700" text-anchor="start" textLength="41.2" lengthAdjust="spacingAndGlyphs" shape-rendering="auto">150.000</text>
<path d="M1375,414 H1424 V431 H1375 Q1373,431 1373,429 V416 Q1373,414 1375,414 Z" fill="#f23645" shape-rendering="auto"/>
<text x="1378" y="426.9" font-size="12" fill="#fff" font-weight="700" text-anchor="start" textLength="41" lengthAdjust="spacingAndGlyphs" shape-rendering="auto">SMA:MA</text>
<path d="M1425,414 H1479 Q1481,414 1481,416 V429 Q1481,431 1479,431 H1425 Z" fill="#f23645" shape-rendering="auto"/>
<text x="1433.7" y="426.9" font-size="12" fill="#fff" font-weight="700" text-anchor="start" textLength="41.2" lengthAdjust="spacingAndGlyphs" shape-rendering="auto">149.299</text>
<path d="M1425,485 H1479 Q1481,485 1481,487 V500 Q1481,502 1479,502 H1425 Z" fill="#000" shape-rendering="auto"/>
<text x="1433.7" y="497.9" font-size="12" fill="#fff" font-weight="700" text-anchor="start" textLength="41.2" lengthAdjust="spacingAndGlyphs" shape-rendering="auto">146.618</text>
<path d="M1425,528 H1479 Q1481,528 1481,530 V543 Q1481,545 1479,545 H1425 Z" fill="#000" shape-rendering="auto"/>
<text x="1433.7" y="540.9" font-size="12" fill="#fff" font-weight="700" text-anchor="start" textLength="41.2" lengthAdjust="spacingAndGlyphs" shape-rendering="auto">144.991</text>
<path d="M1425,620 H1479 Q1481,620 1481,622 V635 Q1481,637 1479,637 H1425 Z" fill="#000" shape-rendering="auto"/>
<text x="1433.7" y="632.9" font-size="12" fill="#fff" font-weight="700" text-anchor="start" textLength="41.2" lengthAdjust="spacingAndGlyphs" shape-rendering="auto">141.508</text>
<rect x="1429" y="31" width="56" height="25.5" rx="4" fill="#fff" stroke="#e0e3eb" stroke-width="2" shape-rendering="auto"/>
<text x="1438" y="48" font-size="12.5" fill="#131722" font-weight="400" text-anchor="start" textLength="18" lengthAdjust="spacingAndGlyphs" shape-rendering="auto">JPY</text>
<path d="M1400,730 H1424 V747 H1400 Q1398,747 1398,745 V732 Q1398,730 1400,730 Z" fill="#7e57c2" shape-rendering="auto"/>
<text x="1403" y="742.9" font-size="12" fill="#fff" font-weight="700" text-anchor="start" textLength="17" lengthAdjust="spacingAndGlyphs" shape-rendering="auto">RSI</text>
<path d="M1425,730 H1466 Q1468,730 1468,732 V745 Q1468,747 1466,747 H1425 Z" fill="#7e57c2" shape-rendering="auto"/>
<text x="1433.5" y="742.8" font-size="12" fill="#fff" font-weight="700" text-anchor="start" textLength="29" lengthAdjust="spacingAndGlyphs" shape-rendering="auto">61.58</text>
<path d="M1346,747 H1424 V764 H1346 Q1344,764 1344,762 V749 Q1344,747 1346,747 Z" fill="#ffeb3b" shape-rendering="auto"/>
<text x="1348.5" y="759.9" font-size="12" fill="#131722" font-weight="400" text-anchor="start" textLength="70" lengthAdjust="spacingAndGlyphs" shape-rendering="auto">RSI-based MA</text>
<path d="M1425,747 H1466 Q1468,747 1468,749 V762 Q1468,764 1466,764 H1425 Z" fill="#ffeb3b" shape-rendering="auto"/>
<text x="1433.5" y="759.8" font-size="12" fill="#131722" font-weight="400" text-anchor="start" textLength="29" lengthAdjust="spacingAndGlyphs" shape-rendering="auto">57.40</text>
<text x="129.4" y="811.8" font-size="12.3" fill="#4a4d57" font-weight="400" text-anchor="start" textLength="20" lengthAdjust="spacingAndGlyphs" shape-rendering="auto">Nov</text>
<text x="286.65" y="811.8" font-size="12.3" fill="#4a4d57" font-weight="400" text-anchor="start" textLength="19.5" lengthAdjust="spacingAndGlyphs" shape-rendering="auto">Dec</text>
<text x="432.75" y="811.8" font-size="12.3" fill="#4a4d57" font-weight="700" text-anchor="start" textLength="27.5" lengthAdjust="spacingAndGlyphs" shape-rendering="auto">2024</text>
<text x="593.25" y="811.8" font-size="12.3" fill="#4a4d57" font-weight="400" text-anchor="start" textLength="19.5" lengthAdjust="spacingAndGlyphs" shape-rendering="auto">Feb</text>
<text x="742.8" y="811.8" font-size="12.3" fill="#4a4d57" font-weight="400" text-anchor="start" textLength="20" lengthAdjust="spacingAndGlyphs" shape-rendering="auto">Mar</text>
<text x="893.7" y="811.8" font-size="12.3" fill="#4a4d57" font-weight="400" text-anchor="start" textLength="18.6" lengthAdjust="spacingAndGlyphs" shape-rendering="auto">Apr</text>
<text x="1049.45" y="811.8" font-size="12.3" fill="#4a4d57" font-weight="400" text-anchor="start" textLength="20.5" lengthAdjust="spacingAndGlyphs" shape-rendering="auto">May</text>
<text x="1214.65" y="811.8" font-size="12.3" fill="#4a4d57" font-weight="400" text-anchor="start" textLength="18.7" lengthAdjust="spacingAndGlyphs" shape-rendering="auto">Jun</text>
<text x="1360.0" y="811.8" font-size="12.3" fill="#4a4d57" font-weight="400" text-anchor="start" textLength="14" lengthAdjust="spacingAndGlyphs" shape-rendering="auto">Jul</text>
<g shape-rendering="auto">
<defs><filter id="fb" x="-5%" y="-5%" width="110%" height="110%"><feGaussianBlur stdDeviation="0.7"/></filter><mask id="mwm" maskUnits="userSpaceOnUse" x="1200" y="740" width="299" height="117"><rect x="1200" y="740" width="299" height="117" fill="#fff"/><text x="1253" y="815" font-family="'Liberation Sans', 'Noto Sans CJK SC', sans-serif" font-weight="900" font-size="60" textLength="250" lengthAdjust="spacingAndGlyphs" fill="#000" transform="skewX(-13) translate(188.5,0)">海马财经</text></mask></defs>
<g mask="url(#mwm)"><text x="1253" y="815" font-family="'Liberation Sans', 'Noto Sans CJK SC', sans-serif" font-weight="900" font-size="60" textLength="250" lengthAdjust="spacingAndGlyphs" fill="#666" fill-opacity="0.75" filter="url(#fb)" transform="translate(-1.5,2) skewX(-13) translate(188.5,0)">海马财经</text></g>
<text x="1253" y="815" font-family="'Liberation Sans', 'Noto Sans CJK SC', sans-serif" font-weight="900" font-size="60" textLength="250" lengthAdjust="spacingAndGlyphs" fill="#ffffff" fill-opacity="0.8" transform="skewX(-13) translate(188.5,0)">海马财经</text>
<text x="1265.5" y="853" font-family="'Liberation Sans', sans-serif" font-weight="700" font-style="italic" font-size="32" textLength="221" lengthAdjust="spacing" fill="#9a9a9a" fill-opacity="0.5" stroke="#9a9a9a" stroke-opacity="0.5" stroke-width="1.2">zzrt01.cn</text>
<text x="1264" y="852" font-family="'Liberation Sans', sans-serif" font-weight="700" font-style="italic" font-size="32" textLength="221" lengthAdjust="spacing" fill="#9db2f7" stroke="#9db2f7" stroke-width="1.2">zzrt01.cn</text>
</g>
<g shape-rendering="auto" fill="#131722">
<path d="M10,834 H18.5 V844 H14 V837.5 H10 Z"/>
<circle cx="21.3" cy="835.8" r="1.9"/>
<path d="M25,834 H29.6 L25.6,844 H21 Z"/>
</g>
<text x="33.2" y="843.9" font-size="12.8" fill="#131722" font-weight="400" text-anchor="start" textLength="70" lengthAdjust="spacingAndGlyphs" shape-rendering="auto">TradingView</text>
</svg></body></html>
